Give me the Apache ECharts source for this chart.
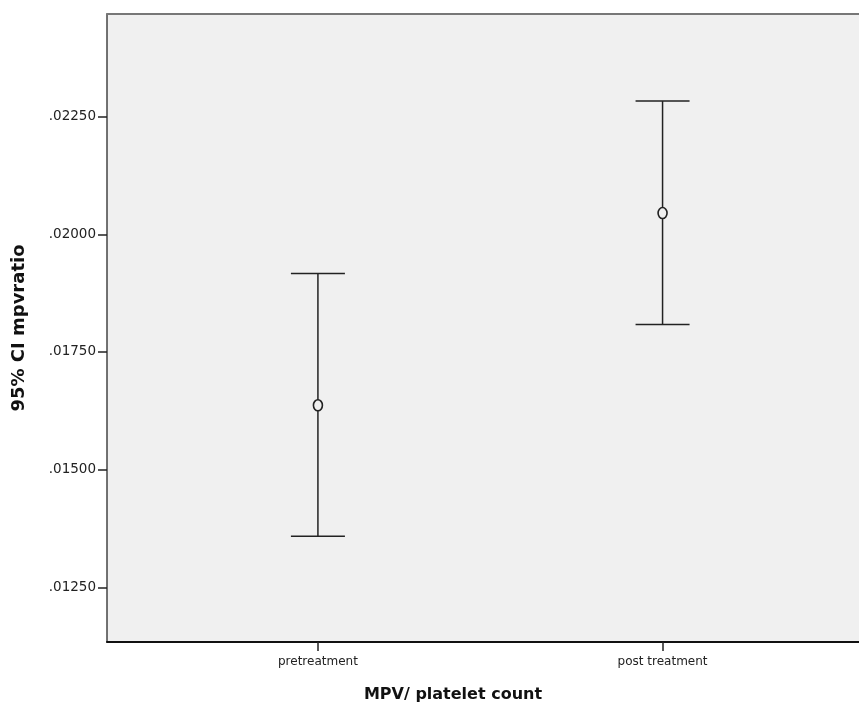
<!DOCTYPE html>
<html>
<head>
<meta charset="utf-8">
<script src="https://cdn.jsdelivr.net/npm/echarts@6/dist/echarts.min.js"></script>
<style>
  html, body { margin: 0; padding: 0; background: #fff; }
  #chart { width: 859px; height: 704px; }
</style>
</head>
<body>
<div id="chart"></div>
<script>
// groups and their 95% CI of mpvratio
const groups = ['pretreatment', 'post treatment'];
const means = [0.016368, 0.020452];
const lower = [0.013585, 0.018082];
const upper = [0.019165, 0.022831];
const yTicks = [0.0125, 0.015, 0.0175, 0.02, 0.0225];

const chart = echarts.init(document.getElementById('chart'));

const ciData = groups.map((g, i) => [i + 1, lower[i], upper[i], means[i]]);

const renderCI = (params, api) => {
    const x = api.value(0);
    const lo = api.coord([x, api.value(1)]);
    const hi = api.coord([x, api.value(2)]);
    const mid = api.coord([x, api.value(3)]);
    const half = 27;
    const r = 5;
    const style = { stroke: '#222', lineWidth: 1.5, fill: null };
    return {
        type: 'group',
        children: [
            { type: 'line', shape: { x1: hi[0], y1: hi[1], x2: lo[0], y2: lo[1] }, style: style },
            { type: 'line', shape: { x1: hi[0] - half, y1: hi[1], x2: hi[0] + half, y2: hi[1] }, style: style },
            { type: 'line', shape: { x1: lo[0] - half, y1: lo[1], x2: lo[0] + half, y2: lo[1] }, style: style },
            { type: 'ellipse', shape: { cx: mid[0], cy: mid[1], rx: r - 0.5, ry: r + 0.5 },
              style: { stroke: '#222', lineWidth: 1.6, fill: '#f0f0f0' } }
        ]
    };
};

chart.setOption({
    animation: false,
    grid: {
        left: 107, top: 14, right: 0, bottom: 62,
        outerBoundsMode: 'none',
        containLabel: false,
        show: true, backgroundColor: '#f0f0f0', borderWidth: 0
    },
    xAxis: [{
        type: 'value',
        min: 0.388, max: 2.57,
        splitLine: { show: false },
        axisLine: { lineStyle: { color: '#111', width: 2 } },
        axisTick: { show: true, length: 9, customValues: [1, 2], lineStyle: { color: '#222', width: 1.5 } },
        axisLabel: {
            customValues: [1, 2],
            formatter: (v) => groups[Math.round(v) - 1],
            color: '#222', fontFamily: 'DejaVu Sans', fontSize: 12, margin: 14
        },
        name: 'MPV/ platelet count',
        nameLocation: 'middle',
        nameGap: 45,
        nameTextStyle: {
            color: '#111', fontFamily: 'DejaVu Sans', fontWeight: 'bold', fontSize: 16,
            padding: [0, 60, 0, 0]
        }
    }, {
        type: 'value',
        position: 'top',
        min: 0.388, max: 2.57,
        splitLine: { show: false },
        axisLine: { show: true, lineStyle: { color: '#777', width: 2 } },
        axisTick: { show: false },
        axisLabel: { show: false }
    }],
    yAxis: {
        type: 'value',
        min: 0.011338, max: 0.024681,
        splitLine: { show: false },
        axisLine: { show: true, lineStyle: { color: '#444', width: 1.5 } },
        axisTick: { show: true, length: 9, customValues: yTicks, lineStyle: { color: '#222', width: 1.5 } },
        axisLabel: {
            customValues: yTicks,
            formatter: (v) => v.toFixed(5).replace(/^0/, ''),
            color: '#222', fontFamily: 'DejaVu Sans', fontSize: 13.5, margin: 11
        },
        name: '95% CI mpvratio',
        nameLocation: 'middle',
        nameGap: 79,
        nameTextStyle: {
            color: '#111', fontFamily: 'DejaVu Sans', fontWeight: 'bold', fontSize: 18
        }
    },
    series: [{
        type: 'custom',
        renderItem: renderCI,
        data: ciData,
        encode: { x: 0, y: [1, 2, 3] },
        clip: false
    }]
});
</script>
</body>
</html>
